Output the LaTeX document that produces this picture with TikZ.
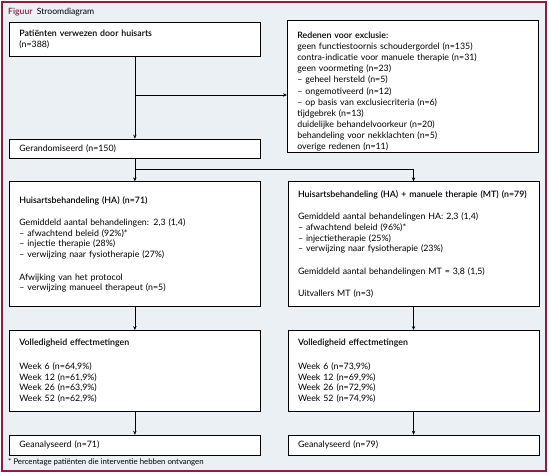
\documentclass[tikz,border=0pt]{standalone}
\usepackage{fontspec}
\setmainfont{Lato}[BoldFont={* Semibold}]
\usepackage{tikz}
\usetikzlibrary{arrows.meta,positioning}
\usepackage{xcolor}
\definecolor{FigRed}{RGB}{140,30,62}
\definecolor{FigBack}{RGB}{234,240,244}

\begin{document}
\begin{tikzpicture}[x=1pt,y=-1pt,node distance=23pt and 27pt,
  box/.style={draw=black,line width=0.7pt,fill=white,text width=231pt,
    inner xsep=10pt,inner ysep=0pt,align=left,font=\fontsize{8.8}{10.6}\selectfont},
  flow/.style={line width=0.7pt,-{Stealth[length=4pt,width=3.4pt]}}]
\useasboundingbox (0,0) rectangle (549,476);
\draw[FigRed,line width=1.2pt,fill=FigBack] (2,2) rectangle (546,471);
\node[anchor=west,inner sep=0pt,font=\fontsize{8.6}{9}\selectfont] (title) at (8,12)
  {\textcolor{FigRed}{\bfseries Figuur}\ \ Stroomdiagram};
\node[box,anchor=north west,minimum height=34pt] (pat) at (9,22)
  {\textbf{Patiënten verwezen door huisarts}\\(n=388)};
\node[box,anchor=north west,minimum height=132pt,font=\fontsize{8.8}{11.1}\selectfont] (excl) at (287,20)
  {\rule{0pt}{17pt}\textbf{Redenen voor exclusie:}\\
   geen functiestoornis schoudergordel (n=135)\\
   contra-indicatie voor manuele therapie (n=31)\\
   geen voormeting (n=23)\\
   – geheel hersteld (n=5)\\
   – ongemotiveerd (n=12)\\
   – op basis van exclusiecriteria (n=6)\\
   tijdgebrek (n=13)\\
   duidelijke behandelvoorkeur (n=20)\\
   behandeling voor nekklachten (n=5)\\
   overige redenen (n=11)};
\node[box,below=82pt of pat,minimum height=19pt] (rand) {Gerandomiseerd (n=150)};
\node[box,below=of rand,minimum height=125pt] (ha)
  {\textbf{Huisartsbehandeling (HA) (n=71)}\\[12pt]
   Gemiddeld aantal behandelingen: 2,3 (1,4)\\
   – afwachtend beleid (92\%)*\\
   – injectie therapie (28\%)\\
   – verwijzing naar fysiotherapie (27\%)\\[12pt]
   Afwijking van het protocol\\
   – verwijzing manueel therapeut (n=5)};
\node[box,right=of ha,minimum height=125pt] (hamt)
  {\textbf{Huisartsbehandeling (HA) + manuele therapie (MT) (n=79)}\\[12pt]
   Gemiddeld aantal behandelingen HA: 2,3 (1,4)\\
   – afwachtend beleid (96\%)*\\
   – injectietherapie (25\%)\\
   – verwijzing naar fysiotherapie (23\%)\\[12pt]
   Gemiddeld aantal behandelingen MT = 3,8 (1,5)\\[12pt]
   Uitvallers MT (n=3)};
\node[box,below=of ha,minimum height=81pt] (vol)
  {\textbf{Volledigheid effectmetingen}\\[13pt]
   Week 6 (n=64,9\%)\\
   Week 12 (n=61,9\%)\\
   Week 26 (n=63,9\%)\\
   Week 52 (n=62,9\%)};
\node[box,right=of vol,minimum height=81pt] (volmt)
  {\textbf{Volledigheid effectmetingen}\\[13pt]
   Week 6 (n=73,9\%)\\
   Week 12 (n=69,9\%)\\
   Week 26 (n=72,9\%)\\
   Week 52 (n=74,9\%)};
\node[box,below=of vol,minimum height=20pt] (gean) {Geanalyseerd (n=71)};
\node[box,right=of gean,minimum height=20pt] (geanmt) {Geanalyseerd (n=79)};
\node[anchor=west,inner sep=0pt,font=\fontsize{7.8}{8}\selectfont] (note) at (8,462)
  {* Percentage patiënten die interventie hebben ontvangen};
\coordinate (split) at (pat.south |- 0,95);
\coordinate[below=11pt of rand] (fork);
\draw[flow] (pat) -- (rand);
\draw[flow] (split) -- (split -| excl.west);
\draw[line width=0.7pt] (rand) -- (fork) -- (fork -| hamt.north);
\draw[flow] (fork) -- (ha);
\draw[flow] (fork -| hamt.north) -- (hamt);
\draw[flow] (ha) -- (vol);
\draw[flow] (hamt) -- (volmt);
\draw[flow] (vol) -- (gean);
\draw[flow] (volmt) -- (geanmt);
\end{tikzpicture}
\end{document}
